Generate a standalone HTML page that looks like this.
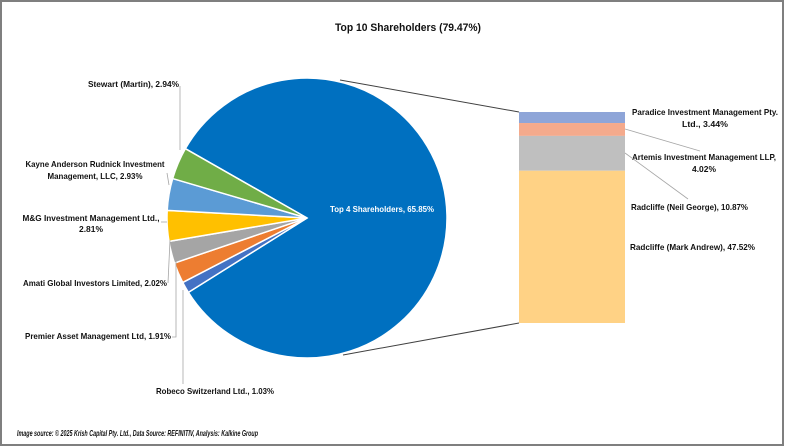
<!DOCTYPE html>
<html><head><meta charset="utf-8"><style>
html,body{margin:0;padding:0;background:#fff}
#wrap{position:relative;width:785px;height:447px;overflow:hidden}
svg text{font-family:"Liberation Sans",sans-serif;font-weight:bold;fill:#111}
</style></head><body>
<div id="wrap">
<svg id="chart" width="785" height="447" viewBox="0 0 785 447">
<rect x="1" y="1" width="782" height="444" fill="#fff" stroke="#7f7f7f" stroke-width="2"/>
<text x="408" y="31" text-anchor="middle" font-size="11" textLength="146" lengthAdjust="spacingAndGlyphs">Top 10 Shareholders (79.47%)</text>
<text x="17" y="436" font-size="8.5" font-style="italic" textLength="241" lengthAdjust="spacingAndGlyphs">Image source: © 2025 Krish Capital Pty. Ltd., Data Source: REFINITIV, Analysis: Kalkine Group</text>
<g id="pie"></g>
<g id="bar"></g>
<g id="labels"></g>
</svg>
</div>
<script>
const pieNames = ["Top 4 Shareholders","Robeco Switzerland Ltd.","Premier Asset Management Ltd","Amati Global Investors Limited","M&G Investment Management Ltd.","Kayne Anderson Rudnick Investment Management, LLC","Stewart (Martin)"];
const pieValues = [65.85,1.03,1.91,2.02,2.81,2.93,2.94];
const pieColors = ["#0070c0","#4472c4","#ed7d31","#a5a5a5","#ffc000","#5b9bd5","#70ad47"];
const barNames = ["Paradice Investment Management Pty. Ltd.","Artemis Investment Management LLP","Radcliffe (Neil George)","Radcliffe (Mark Andrew)"];
const barValues = [3.44,4.02,10.87,47.52];
const barColors = ["#8ea5d8","#f4aa8c","#bfbfbf","#ffd285"];

const NS="http://www.w3.org/2000/svg";
function mk(tag,attrs,parent){const e=document.createElementNS(NS,tag);for(const k in attrs)e.setAttribute(k,attrs[k]);parent.appendChild(e);return e;}
const cx=307,cy=218,r=140;
const total=pieValues.reduce((a,b)=>a+b,0);
const degPer=360/total;
const smallSum=total-pieValues[0];
let start=178.8-smallSum*degPer/2 - pieValues[0]*degPer;
const pie=document.getElementById('pie');
function pt(a,rr){const t=a*Math.PI/180;return [cx+rr*Math.cos(t),cy+rr*Math.sin(t)];}
let ang=start;
pieValues.forEach((v,i)=>{
  const a0=ang,a1=ang+v*degPer;ang=a1;
  const p0=pt(a0,r),p1=pt(a1,r);
  const large=(a1-a0)>180?1:0;
  const p=mk('path',{d:`M${cx},${cy} L${p0[0]},${p0[1]} A${r},${r} 0 ${large} 1 ${p1[0]},${p1[1]} Z`,fill:pieColors[i],stroke:'#fff','stroke-width':1.5},pie);
  
  
});

const bx=519,bw=106,btop=112,bh=211;
const barTotal=barValues.reduce((a,b)=>a+b,0);
const bar=document.getElementById('bar');
let y=btop;
barValues.forEach((v,i)=>{
  const h=v/barTotal*bh;
  const rc=mk('rect',{x:bx,y:y,width:bw,height:h,fill:barColors[i]},bar);
  
  
  y+=h;
});
const l1=mk('line',{x1:340,y1:80,x2:bx,y2:btop,stroke:'#404040','stroke-width':1},bar);


const l2=mk('line',{x1:343,y1:355,x2:bx,y2:btop+bh,stroke:'#404040','stroke-width':1},bar);



const L=document.getElementById('labels');
function txt(s,x,yy,anchor,len,fill,name){
  const t=mk('text',{x:x,y:yy,'text-anchor':anchor,'font-size':8.5,textLength:len,lengthAdjust:'spacingAndGlyphs'},L);
  if(fill)t.style.fill=fill;
  t.textContent=s;
  
  
}
function line(pts,name){
  const p=mk('polyline',{points:pts,fill:'none',stroke:'#a6a6a6','stroke-width':0.8},L);
  
  
}
function pc(v){return v.toFixed(2)+'%';}
txt(pieNames[0]+', '+pc(pieValues[0]),382,212,'middle',104,'#ffffff','label-top4');
txt(pieNames[6]+', '+pc(pieValues[6]),179,87,'end',91,null,'label-stewart');
line('180,86 180,150','leader-stewart');
txt('Kayne Anderson Rudnick Investment',95,167,'middle',139,null,'label-kayne-1');
txt('Management, LLC, '+pc(pieValues[5]),95,179,'middle',95,null,'label-kayne-2');
line('167,173 169,185','leader-kayne');
txt('M&G Investment Management Ltd.,',91,221,'middle',137,null,'label-mg-1');
txt(pc(pieValues[4]),91,232,'middle',24,null,'label-mg-2');
line('161,222 167,222','leader-mg');
txt(pieNames[3]+', '+pc(pieValues[3]),167,286,'end',144,null,'label-amati');
line('168,283 170,240','leader-amati');
txt(pieNames[2]+', '+pc(pieValues[2]),171,339,'end',146,null,'label-premier');
line('172,337 176,337 176,255','leader-premier');
txt(pieNames[1]+', '+pc(pieValues[1]),215,394,'middle',118,null,'label-robeco');
line('183,384 183,290','leader-robeco');
txt('Paradice Investment Management Pty.',705,115,'middle',146,null,'label-paradice-1');
txt('Ltd., '+pc(barValues[0]),705,127,'middle',46,null,'label-paradice-2');
line('625,129 700,151','leader-paradice');
txt('Artemis Investment Management LLP,',704,160,'middle',144,null,'label-artemis-1');
txt(pc(barValues[1]),704,172,'middle',24,null,'label-artemis-2');
line('625,153 688,199','leader-artemis');
txt(barNames[2]+', '+pc(barValues[2]),631,210,'start',117,null,'label-neil');
txt(barNames[3]+', '+pc(barValues[3]),630,250,'start',125,null,'label-mark');
</script>
</body></html>
